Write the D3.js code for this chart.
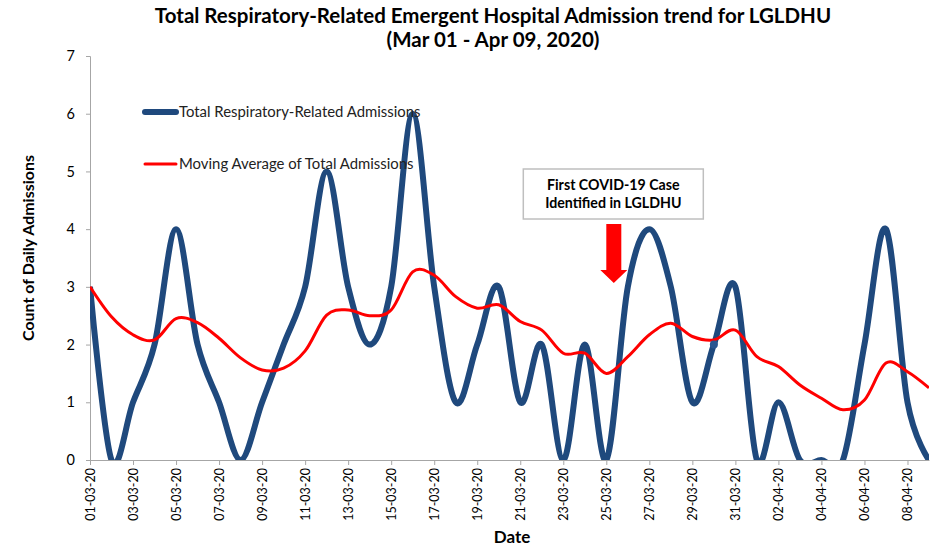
<!DOCTYPE html>
<html>
<head>
<meta charset="utf-8">
<script src="https://cdn.jsdelivr.net/npm/d3@7"></script>
<style>
  body { margin: 0; background: #fff; }
  svg { display: block; font-family: Lato, "Open Sans", sans-serif; }
</style>
</head>
<body>
<svg class="chart"></svg>
<script>
var dates = ["01-03-20","02-03-20","03-03-20","04-03-20","05-03-20","06-03-20","07-03-20","08-03-20","09-03-20","10-03-20",
             "11-03-20","12-03-20","13-03-20","14-03-20","15-03-20","16-03-20","17-03-20","18-03-20","19-03-20","20-03-20",
             "21-03-20","22-03-20","23-03-20","24-03-20","25-03-20","26-03-20","27-03-20","28-03-20","29-03-20","30-03-20",
             "31-03-20","01-04-20","02-04-20","03-04-20","04-04-20","05-04-20","06-04-20","07-04-20","08-04-20","09-04-20"];

var admissions = [3,0,1,2,4,2,1,0,1,2, 3,5,3,2,3,6,3,1,2,3, 1,2,0,2,0,3,4,3,1,2, 3,0,1,0,0,0,2,4,1,0];

var movingAvg = [3.0,2.48,2.17,2.08,2.45,2.38,2.11,1.77,1.56,1.59, 1.89,2.51,2.6,2.5,2.6,3.26,3.2,2.83,2.63,2.69,
                 2.4,2.25,1.85,1.85,1.5,1.79,2.17,2.37,2.14,2.08, 2.25,1.79,1.62,1.3,1.07,0.87,1.04,1.68,1.53,1.25];

var yTicks = [0,1,2,3,4,5,6,7];

var seriesNames = ["Total Respiratory-Related Admissions", "Moving Average of Total Admissions"];
var titleLines = ["Total Respiratory-Related Emergent Hospital Admission trend for LGLDHU", "(Mar 01 - Apr 09, 2020)"];
var noteLines = ["First COVID-19 Case", "Identified in LGLDHU"];
var noteDate = "25-03-20";

var width = 939, height = 548;
var margin = {top: 56, right: 10, bottom: 88, left: 90};

var svg = d3.select(".chart").attr("width", width).attr("height", height);

var x = d3.scalePoint().domain(dates).range([margin.left, width - margin.right]);
var y = d3.scaleLinear().domain([0, 7]).range([height - margin.bottom, margin.top]);

// title
svg.append("g").selectAll("text")
    .data(titleLines)
    .enter().append("text")
    .attr("x", 493)
    .attr("y", function(d, i) { return 23 + i * 24; })
    .attr("text-anchor", "middle")
    .attr("font-size", "20.5px")
    .attr("font-weight", "bold")
    .attr("fill", "#000")
    .text(function(d) { return d; });

// plot area clip, like the spreadsheet plot area
svg.append("defs").append("clipPath").attr("id", "plot")
    .append("rect")
    .attr("x", margin.left).attr("y", margin.top)
    .attr("width", width - margin.right - margin.left)
    .attr("height", y(0) - margin.top);

// y axis
var yAxis = svg.append("g")
    .attr("transform", "translate(" + margin.left + ",0)")
    .call(d3.axisLeft(y).tickValues(yTicks).tickSize(4).tickPadding(11).tickFormat(d3.format("d")));
yAxis.selectAll("path, line").attr("stroke", "#a6a6a6");
yAxis.selectAll("text").attr("font-size", "14.5px").attr("fill", "#000").attr("font-family", "Lato, sans-serif");

// x axis
var xAxis = svg.append("g")
    .attr("transform", "translate(0," + y(0) + ")")
    .call(d3.axisBottom(x).tickValues(dates.filter(function(d, i) { return i % 2 == 0; })).tickSize(5).tickSizeOuter(0));
xAxis.select(".domain").attr("stroke", "#a6a6a6");
xAxis.selectAll("line").attr("stroke", "#a6a6a6");
xAxis.selectAll("text")
    .attr("font-size", "12.5px")
    .attr("fill", "#000")
    .attr("font-family", "Lato, sans-serif")
    .attr("transform", "rotate(-90)")
    .attr("text-anchor", "end")
    .attr("x", -8)
    .attr("y", 0)
    .attr("dy", "0.35em");

// axis titles
svg.append("text")
    .attr("transform", "translate(34,248) rotate(-90)")
    .attr("text-anchor", "middle")
    .attr("font-size", "16px")
    .attr("font-weight", "bold")
    .text("Count of Daily Admissions");

svg.append("text")
    .attr("x", 512)
    .attr("y", 543)
    .attr("text-anchor", "middle")
    .attr("font-size", "17px")
    .attr("font-weight", "bold")
    .text("Date");

// lines
var line = d3.line()
    .x(function(d, i) { return x(dates[i]); })
    .y(function(d) { return y(d); })
    .curve(d3.curveCardinal.tension(0));

var plot = svg.append("g").attr("clip-path", "url(#plot)");

plot.append("path")
    .attr("d", line(admissions))
    .attr("fill", "none")
    .attr("stroke", "#1f497d")
    .attr("stroke-width", 6)
    .attr("stroke-linejoin", "round");

plot.append("path")
    .attr("d", line(movingAvg))
    .attr("fill", "none")
    .attr("stroke", "#ff0000")
    .attr("stroke-width", 3);

// stray marker on 30-03
plot.append("circle")
    .attr("cx", x("30-03-20"))
    .attr("cy", y(admissions[29]))
    .attr("r", 4)
    .attr("fill", "#2a5690");

// legend
var legend = svg.append("g");
var legendRows = [
    {name: seriesNames[0], color: "#1f497d", w: 6, y: 112},
    {name: seriesNames[1], color: "#ff0000", w: 3, y: 164}
];
legendRows.forEach(function(r) {
    legend.append("line")
        .attr("x1", 145).attr("x2", 176)
        .attr("y1", r.y).attr("y2", r.y)
        .attr("stroke", r.color)
        .attr("stroke-width", r.w)
        .attr("stroke-linecap", "round");
    legend.append("text")
        .attr("x", 179)
        .attr("y", r.y + 5)
        .attr("font-size", "14.9px")
        .attr("fill", "#222")
        .text(r.name);
});

// annotation
var nx = x(noteDate) + 7;
svg.append("rect")
    .attr("x", nx - 90).attr("y", 169)
    .attr("width", 180).attr("height", 50)
    .attr("fill", "#fff")
    .attr("stroke", "#bfbfbf")
    .attr("stroke-width", 1.5);
svg.append("g").selectAll("text")
    .data(noteLines)
    .enter().append("text")
    .attr("x", nx)
    .attr("y", function(d, i) { return 190 + i * 18; })
    .attr("text-anchor", "middle")
    .attr("font-size", "14.2px")
    .attr("font-weight", "bold")
    .text(function(d) { return d; });

svg.append("path")
    .attr("d", "M" + (nx - 7) + ",224 h15 v46 h6 l-13.5,13 l-13.5,-13 h6 z")
    .attr("fill", "#ff0000");
</script>
</body>
</html>
